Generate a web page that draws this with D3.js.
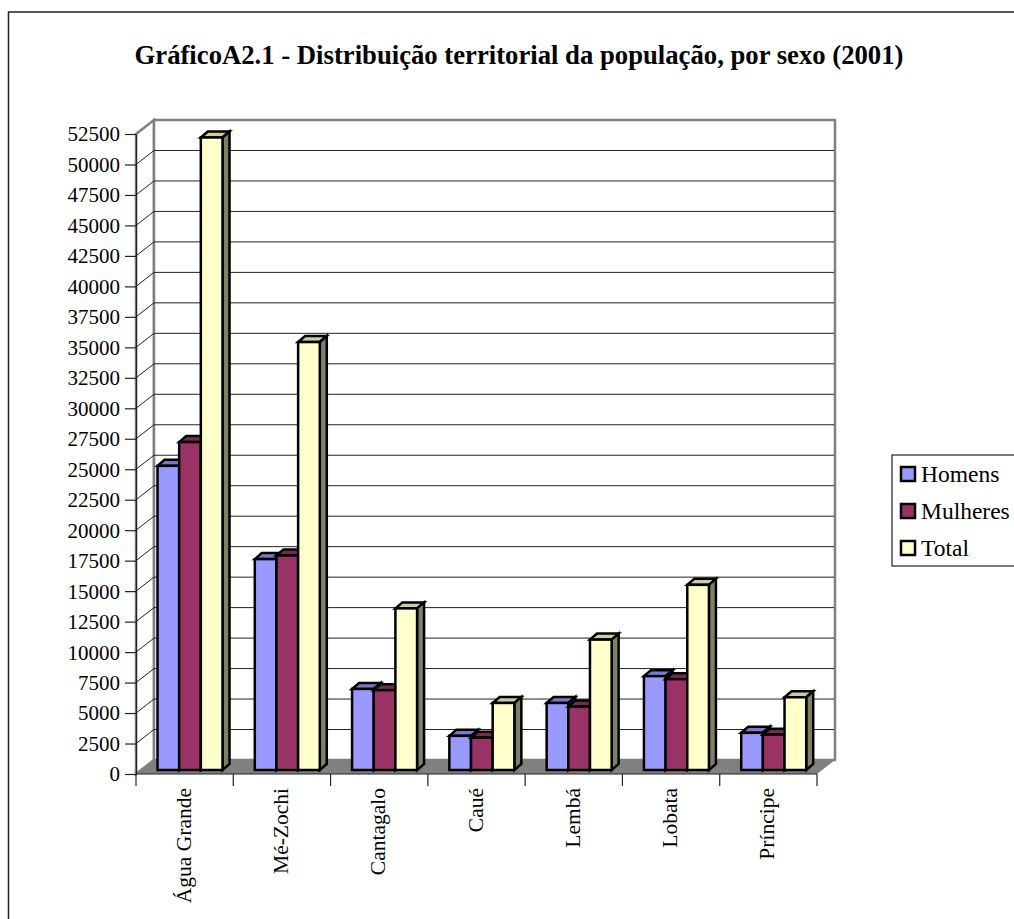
<!DOCTYPE html>
<html lang="pt">
<head>
<meta charset="utf-8">
<script src="https://d3js.org/d3.v7.min.js"></script>
<style>
	html, body { margin: 0; padding: 0; background: #fff; overflow: hidden; }
	text { font-family: "Liberation Serif", serif; fill: #000; }
	.title { font-size: 26.7px; font-weight: bold; }
	.axis text { font-size: 21px; }
	.axis text.xlabel { font-size: 21.5px; }
	.legend text { font-size: 23.5px; }
</style>
</head>
<body>
<div id="chart"></div>
<script>

var categories = ["Água Grande", "Mé-Zochi", "Cantagalo", "Caué", "Lembá", "Lobata", "Príncipe"];
var seriesNames = ["Homens", "Mulheres", "Total"];
var homens = [24950, 17300, 6650, 2800, 5500, 7700, 3050];
var mulheres = [26900, 17600, 6550, 2650, 5200, 7450, 2900];
var total = [51886, 35105, 13258, 5501, 10696, 15187, 5966];
var yTicks = d3.range(0, 52501, 2500);
var seriesColors = ["#9999ff", "#993366", "#ffffcc"];

var width = 1014, height = 919;

// front plane of the chart box, and how far the back wall is pushed
var left = 136, right = 817, top0 = 134, bottom = 774;
var depthX = 18, depthY = -14;
// bars sit a bit in from the front of the floor
var barShiftY = -4;
var barDepthX = 7, barDepthY = -6;

var svg = d3.select("#chart").append("svg")
	.attr("width", width)
	.attr("height", height)
	.style("display", "block");

// outer frame runs off the right and the bottom of the page
svg.append("rect")
	.attr("x", 8.5).attr("y", 12)
	.attr("width", width + 20).attr("height", height + 20)
	.style("fill", "#fff").style("stroke", "#222").style("stroke-width", 1.5);

svg.append("text")
	.attr("class", "title")
	.attr("x", 519).attr("y", 64)
	.attr("text-anchor", "middle")
	.text("GráficoA2.1 - Distribuição territorial da população, por sexo (2001)");

var y = d3.scaleLinear().domain([0, 52500]).range([bottom, top0]);
var x = d3.scaleBand().domain(categories).range([left, right]);
var xSeries = d3.scaleBand().domain(seriesNames).range([21.5, 86.5]);

function poly(pts) {
	return pts.map(function(p) { return p.join(","); }).join(" ");
}

var walls = svg.append("g");

// side wall and back wall
walls.append("polygon")
	.attr("points", poly([[left, top0], [left + depthX, top0 + depthY], [left + depthX, bottom + depthY], [left, bottom]]))
	.style("fill", "#fff").style("stroke", "#808080").style("stroke-width", 2.5);
walls.append("polygon")
	.attr("points", poly([[left + depthX, top0 + depthY], [right + depthX, top0 + depthY], [right + depthX, bottom + depthY], [left + depthX, bottom + depthY]]))
	.style("fill", "#fff").style("stroke", "#808080").style("stroke-width", 2.5);

// grid lines go along the side wall and then across the back
walls.selectAll(".grid")
	.data(yTicks.slice(1, -1))
	.enter()
	.append("polyline")
	.attr("class", "grid")
	.attr("points", function(d) {
		return poly([[left, y(d)], [left + depthX, y(d) + depthY], [right + depthX - 1, y(d) + depthY]]);
	})
	.style("fill", "none").style("stroke", "#222").style("stroke-width", 1);

// floor
walls.append("polygon")
	.attr("points", poly([[left, bottom], [left + depthX, bottom + depthY], [right + depthX, bottom + depthY], [right, bottom]]))
	.style("fill", "#808080");

// bars
var bars = svg.append("g");
var values = [homens, mulheres, total];

categories.forEach(function(cat, i) {
	seriesNames.forEach(function(name, s) {
		var x0 = x(cat) + xSeries(name);
		var x1 = x0 + xSeries.bandwidth();
		var yBase = y(0) + barShiftY;
		var yTop = y(values[s][i]) + barShiftY;
		var col = d3.color(seriesColors[s]);
		var g = bars.append("g")
			.style("stroke", "#000").style("stroke-width", 2.5).style("stroke-linejoin", "miter");
		g.append("polygon")
			.attr("points", poly([[x0, yTop], [x0 + barDepthX, yTop + barDepthY], [x1 + barDepthX, yTop + barDepthY], [x1, yTop]]))
			.style("fill", d3.rgb(col.r * 0.8, col.g * 0.8, col.b * 0.8));
		g.append("polygon")
			.attr("points", poly([[x1, yTop], [x1 + barDepthX, yTop + barDepthY], [x1 + barDepthX, yBase + barDepthY], [x1, yBase]]))
			.style("fill", d3.rgb(col.r * 0.5, col.g * 0.5, col.b * 0.5));
		g.append("rect")
			.attr("x", x0).attr("y", yTop)
			.attr("width", x1 - x0).attr("height", yBase - yTop)
			.style("fill", seriesColors[s]);
	});
});

// axes
var yAxis = d3.axisLeft(y).tickValues(yTicks).tickFormat(d3.format("d")).tickSize(11).tickSizeOuter(0).tickPadding(5);
var gy = svg.append("g").attr("class", "axis").attr("transform", "translate(" + left + ",0)").call(yAxis);
gy.selectAll("path, line").style("stroke", "#222").style("stroke-width", 1.2);
gy.selectAll("text").attr("dy", "0.33em");

var xAxisLine = svg.append("g").attr("class", "axis");
xAxisLine.append("line")
	.attr("x1", left).attr("x2", right).attr("y1", bottom).attr("y2", bottom)
	.style("stroke", "#222").style("stroke-width", 1.2);
xAxisLine.selectAll(".xtick")
	.data(categories.concat([null]))
	.enter()
	.append("line")
	.attr("class", "xtick")
	.attr("x1", function(d) { return d === null ? right : x(d); })
	.attr("x2", function(d) { return d === null ? right : x(d); })
	.attr("y1", bottom).attr("y2", bottom + 12)
	.style("stroke", "#222").style("stroke-width", 1.2);
xAxisLine.selectAll(".xlabel")
	.data(categories)
	.enter()
	.append("text")
	.attr("class", "xlabel")
	.attr("transform", function(d) {
		return "translate(" + (x(d) + x.bandwidth() / 2 + 6) + "," + (bottom + 14) + ") rotate(-90)";
	})
	.attr("text-anchor", "end")
	.text(function(d) { return d; });

// legend
var legend = svg.append("g").attr("class", "legend");
legend.append("rect")
	.attr("x", 892).attr("y", 455)
	.attr("width", 140).attr("height", 111)
	.style("fill", "#fff").style("stroke", "#222").style("stroke-width", 1.2);
var legendY = d3.scalePoint().domain(seriesNames).range([474, 548]);
seriesNames.forEach(function(name, s) {
	legend.append("rect")
		.attr("x", 901).attr("y", legendY(name) - 7)
		.attr("width", 14).attr("height", 14)
		.style("fill", seriesColors[s]).style("stroke", "#000").style("stroke-width", 2.5);
	legend.append("text")
		.attr("x", 921).attr("y", legendY(name) + 8)
		.text(name);
});
</script>
</body>
</html>
